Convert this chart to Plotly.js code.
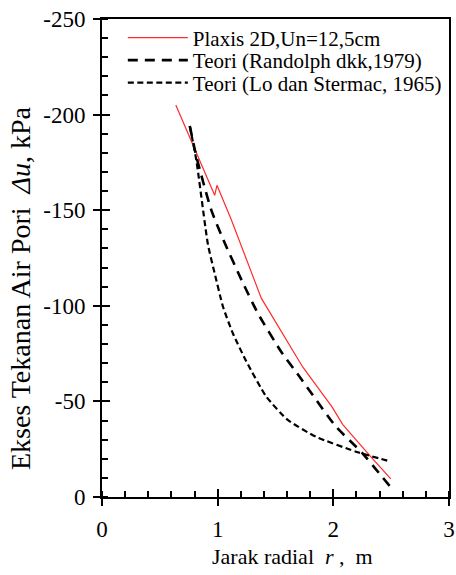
<!DOCTYPE html>
<html>
<head>
<meta charset="utf-8">
<script src="https://cdn.plot.ly/plotly-3.0.1.min.js"></script>
<style>html,body{margin:0;padding:0;background:#fff;}#chart{width:456px;height:575px;}</style>
</head>
<body>
<div id="chart"></div>
<script>
// Plaxis 2D, Un = 12,5 cm
const plaxisR  = [0.638, 0.974, 0.994, 1.118, 1.377, 1.615, 1.735, 1.99, 2.08, 2.325, 2.497];
const plaxisDu = [-205, -157.8, -163, -145, -104, -80, -68, -47, -38, -21, -9.5];
// Teori (Randolph dkk, 1979)
const randR  = [0.759, 0.82, 0.945, 1.06, 1.218, 1.348, 1.549, 1.707, 2.02, 2.25, 2.497];
const randDu = [-194, -177, -150, -133, -112, -96, -76, -63, -37, -23, -5];
// Teori (Lo dan Stermac, 1965)
const loR  = [0.759, 0.816, 0.916, 0.974, 1.046, 1.132, 1.247, 1.42, 1.606, 1.85, 2.196, 2.497];
const loDu = [-194, -176, -132, -117, -99.5, -85.5, -71, -52.5, -40.3, -31.5, -23.7, -18.5];

const names = ['Plaxis 2D,Un=12,5cm', 'Teori (Randolph dkk,1979)', 'Teori (Lo dan Stermac, 1965)'];
const xTicks = [0, 1, 2, 3];
const yTicks = [-250, -200, -150, -100, -50, 0];
const xTitle = 'Jarak radial  <i>r</i> ,  m';
const yTitle = 'Ekses Tekanan Air Pori  <i>Δu</i>, kPa';

const FONT = 'Liberation Serif, Times New Roman, serif';

const traces = [
  {x: plaxisR, y: plaxisDu, name: names[0], mode: 'lines', legend: 'legend',
   line: {color: '#ff2a2a', width: 1.2}},
  {x: randR, y: randDu, name: names[1], mode: 'lines', legend: 'legend2',
   line: {color: '#000', width: 2.6, dash: '10px,7px', shape: 'spline', smoothing: 0.5}},
  {x: loR, y: loDu, name: names[2], mode: 'lines', legend: 'legend3',
   line: {color: '#000', width: 2.2, dash: '6px,3.5px', shape: 'spline', smoothing: 0.5}},
  {x: [], y: [], xaxis: 'x2', yaxis: 'y2', showlegend: false, hoverinfo: 'skip'}
];

function leg(yc) {
  return {x: 0.06, y: yc, xanchor: 'left', yanchor: 'middle', bgcolor: 'rgba(0,0,0,0)',
          font: {family: FONT, size: 21, color: '#000'}, itemwidth: 60, borderwidth: 0};
}

const layout = {
  width: 456, height: 575,
  margin: {l: 102, r: 7, t: 19, b: 78},
  paper_bgcolor: '#fff', plot_bgcolor: '#fff',
  font: {family: FONT, color: '#000', size: 20},
  showlegend: true,
  legend: leg(0.9603),
  legend2: leg(0.9132),
  legend3: leg(0.8661),
  xaxis: {
    range: [0, 3], tickvals: xTicks, ticktext: xTicks.map(String),
    showgrid: false, zeroline: false, showline: true, linecolor: '#000', linewidth: 2, mirror: true,
    ticks: 'outside', ticklen: 7, tickwidth: 2, tickcolor: '#000', ticklabelstandoff: 3,
    minor: {ticks: 'inside', dtick: 0.2, ticklen: 6, tickwidth: 2, tickcolor: '#000', showgrid: false},
    tickfont: {family: FONT, size: 23, color: '#000'}
  },
  yaxis: {
    range: [0, -250], tickvals: yTicks, ticktext: yTicks.map(String),
    showgrid: false, zeroline: false, showline: true, linecolor: '#000', linewidth: 2, mirror: true,
    ticks: 'outside', ticklen: 7, tickwidth: 2, tickcolor: '#000', ticklabelstandoff: 3,
    minor: {ticks: 'inside', dtick: 10, ticklen: 6, tickwidth: 2, tickcolor: '#000', showgrid: false},
    tickfont: {family: FONT, size: 23, color: '#000'}
  },
  xaxis2: {overlaying: 'x', anchor: 'y', range: [0, 3], tickvals: xTicks, showticklabels: false,
           ticks: 'inside', ticklen: 8, tickwidth: 2, tickcolor: '#000', showgrid: false, zeroline: false, showline: false},
  yaxis2: {overlaying: 'y', anchor: 'x', range: [0, -250], tickvals: yTicks, showticklabels: false,
           ticks: 'inside', ticklen: 8, tickwidth: 2, tickcolor: '#000', showgrid: false, zeroline: false, showline: false},
  annotations: [
    {text: xTitle, xref: 'paper', yref: 'paper', x: 0.549, y: -0.1255, xanchor: 'center', yanchor: 'middle',
     showarrow: false, font: {family: FONT, size: 22, color: '#000'}},
    {text: yTitle, xref: 'paper', yref: 'paper', x: -0.2363, y: 0.437, xanchor: 'center', yanchor: 'middle',
     textangle: -90, showarrow: false, font: {family: FONT, size: 28, color: '#000'}}
  ]
};

Plotly.newPlot('chart', traces, layout, {displayModeBar: false, staticPlot: true});
</script>
</body>
</html>
